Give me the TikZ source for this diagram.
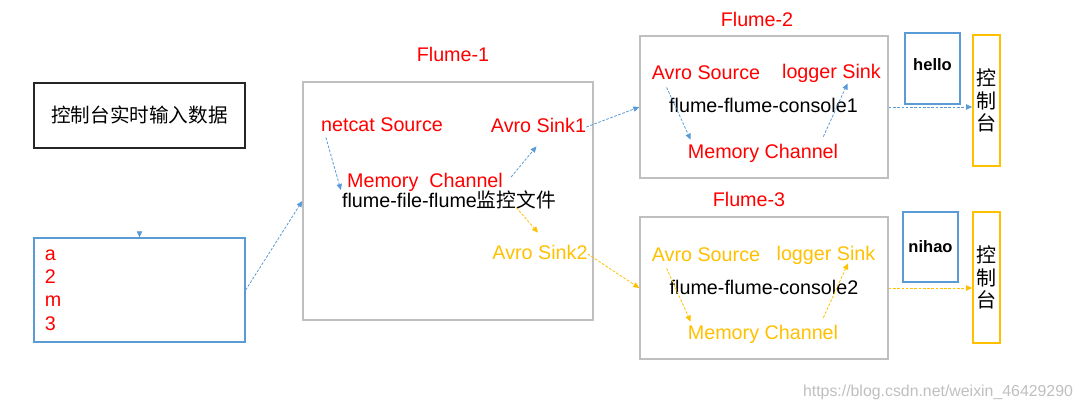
\documentclass[tikz,border=0pt]{standalone}
\usepackage{fontspec}
\setmainfont{Liberation Sans}
\newfontfamily\cjk{Noto Sans CJK SC}
\usepackage{xcolor}
\usepackage{tikz}
\usetikzlibrary{arrows.meta,positioning}
\definecolor{flred}{HTML}{FF0000}
\definecolor{flyellow}{HTML}{FFC000}
\definecolor{flblue}{HTML}{5B9BD5}
\definecolor{flgray}{HTML}{BFBFBF}
\tikzset{
    lbl/.style={inner sep=0pt, text height=10.6pt, text depth=3.1pt, font=\fontsize{14.8}{17.5}\selectfont},
    redtxt/.style={lbl, text=flred},
    yeltxt/.style={lbl, text=flyellow},
    blktxt/.style={lbl, text=black},
    agent/.style={rectangle, draw=flgray, line width=1.1pt, inner sep=0pt},
    bluebox/.style={rectangle, draw=flblue, line width=1pt, inner sep=0pt},
    shellbox/.style={rectangle, draw=flyellow, line width=1.2pt, inner sep=0pt, minimum width=20.25pt, minimum height=98.25pt, align=center, font=\cjk\fontsize{15}{16.9}\selectfont},
    bflow/.style={-{Triangle[length=4.5pt, width=4pt]}, draw=flblue, line width=0.6pt, dash pattern=on 2pt off 1.2pt},
    yflow/.style={-{Triangle[length=4.5pt, width=4pt]}, draw=flyellow, line width=0.6pt, dash pattern=on 2pt off 1.2pt},
}
\begin{document}
\begin{tikzpicture}[x=0.75pt, y=-0.75pt]
    \useasboundingbox (0,0) rectangle (1083,411);
    % left side: console input
    \node[rectangle, draw=black!85, line width=1pt, minimum width=158.25pt, minimum height=48.75pt, font=\cjk\fontsize{14.7}{17}\selectfont] (cmd) at (139.5,115.5) {控制台实时输入数据};
    \node[bluebox, minimum width=158.25pt, minimum height=78pt, inner xsep=8.25pt, text width=141.75pt, align=left, text=flred, font=\fontsize{14.8}{17.5}\selectfont] (data) at (139.5,290) {a\\2\\m\\3};
    \coordinate (datatop) at (139.5,232);

    % agents
    \node[agent, minimum width=217.5pt, minimum height=178.5pt] (flume1) at (448,201) {};
    \node[agent, minimum width=186pt, minimum height=106.5pt] (flume2) at (764,107) {};
    \node[agent, minimum width=186pt, minimum height=106.5pt] (flume3) at (764,288) {};
    \node[redtxt, above=11.9pt of flume1, xshift=3.75pt] (f1name) {Flume-1};
    \node[redtxt, above=3.6pt of flume2, xshift=-5.25pt] (f2name) {Flume-2};
    \node[redtxt, above=4.4pt of flume3, xshift=-11.25pt] (f3name) {Flume-3};

    % flume-1
    \node[redtxt] (netcat) at (382,126) {netcat Source};
    \node[redtxt] (sink1) at (538.5,127) {Avro Sink1};
    \node[redtxt] (mc1) at (425,182) {Memory~\ Channel};
    \node[blktxt] (conf1) at (449,202) {flume-file-flume{\cjk 监控文件}};
    \node[yeltxt] (sink2) at (540,254) {Avro Sink2};

    % flume-2
    \node[redtxt] (src2) at (706,74) {Avro Source};
    \node[redtxt] (log2) at (831.5,73) {logger Sink};
    \node[blktxt] (conf2) at (763.5,107) {flume-flume-console1};
    \node[redtxt] (mc2) at (763,153) {Memory Channel};

    % flume-3
    \node[yeltxt] (src3) at (706,256) {Avro Source};
    \node[yeltxt] (log3) at (826,255) {logger Sink};
    \node[blktxt] (conf3) at (764,289) {flume-flume-console2};
    \node[yeltxt] (mc3) at (763,334) {Memory Channel};

    % outputs
    \node[bluebox, minimum width=41.25pt, minimum height=53.25pt, text height=9pt, text depth=6pt, font=\bfseries\fontsize{12.4}{14}\selectfont] (hello) at (932.5,68.5) {hello};
    \node[bluebox, minimum width=41.25pt, minimum height=52.5pt, font=\bfseries\fontsize{12.4}{14}\selectfont] (nihao) at (930.5,247) {nihao};
    \node[shellbox] (shell1) at (986.5,100.5) {控\\制\\台};
    \node[shellbox] (shell2) at (986.5,277.5) {控\\制\\台};

    \node[text=black!25, inner sep=0pt, font=\fontsize{11.9}{14}\selectfont] (mark) at (938,392) {https://blog.csdn.net/weixin\_46429290};

    \draw[bflow] (datatop) -- (data.north);
    \draw[bflow] (data.east) -- (flume1.west);
    \draw[bflow] ([shift={(5,2)}]netcat.south west) -- ([shift={(-6,8)}]mc1.west);
    \draw[bflow] ([shift={(8,-5)}]mc1.east) -- ([shift={(-2,10)}]sink1.south);
    \draw[yflow] ([shift={(13,16)}]mc1.south east) -- ([shift={(-2,-12)}]sink2.north);
    \draw[bflow] (sink1.east) -- (flume2.west);
    \draw[yflow] (sink2.east) -- (flume3.west);
    \draw[bflow] ([shift={(15,4)}]src2.south west) -- ([shift={(3,-4)}]mc2.north west);
    \draw[bflow] ([shift={(-15,-7)}]mc2.north east) -- ([shift={(16,1)}]log2.south);
    \draw[yflow] ([shift={(15,3)}]src3.south west) -- ([shift={(3,-3)}]mc3.north west);
    \draw[yflow] ([shift={(-15,-7)}]mc3.north east) -- ([shift={(22,-1)}]log3.south);
    \draw[bflow] (flume2.east) -- (flume2.east -| shell1.west);
    \draw[yflow] (flume3.east) -- (flume3.east -| shell2.west);
\end{tikzpicture}
\end{document}
